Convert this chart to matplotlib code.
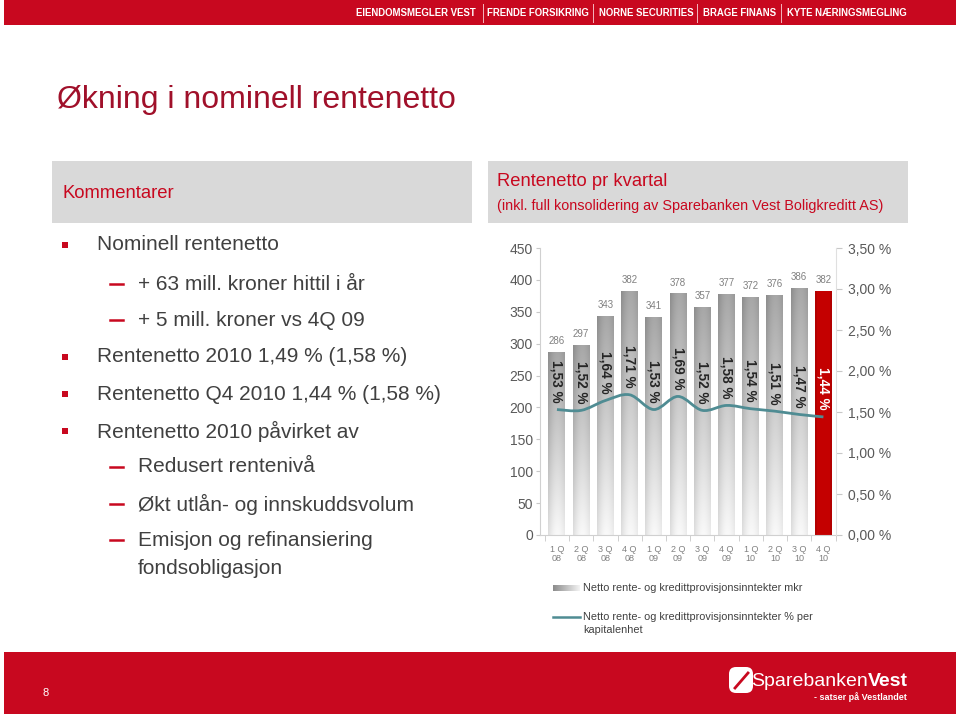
import numpy as np
import matplotlib
matplotlib.use("Agg")
import matplotlib.pyplot as plt
from matplotlib.path import Path
from matplotlib.patches import PathPatch, Rectangle, FancyBboxPatch

plt.rcParams['font.family'] = ['Liberation Sans', 'DejaVu Sans']

# data
quarters = ["1 Q\n08", "2 Q\n08", "3 Q\n08", "4 Q\n08", "1 Q\n09", "2 Q\n09",
            "3 Q\n09", "4 Q\n09", "1 Q\n10", "2 Q\n10", "3 Q\n10", "4 Q\n10"]
mkr = [286, 297, 343, 382, 341, 378, 357, 377, 372, 376, 386, 382]
pct = [1.53, 1.52, 1.64, 1.71, 1.53, 1.69, 1.52, 1.58, 1.54, 1.51, 1.47, 1.44]
left_ticks = [0, 50, 100, 150, 200, 250, 300, 350, 400, 450]
right_ticks = [0.0, 0.5, 1.0, 1.5, 2.0, 2.5, 3.0, 3.5]
companies = ["EIENDOMSMEGLER VEST", "FRENDE FORSIKRING", "NORNE SECURITIES",
             "BRAGE FINANS", "KYTE NÆRINGSMEGLING"]

RED = "#c8081f"
DARKRED = "#a0102a"
TXT = "#404040"
TEAL = "#4f8c93"

W, H = 960, 716
fig = plt.figure(figsize=(W / 100, H / 100), dpi=100)

# overlay in pixel coordinates for the slide parts
bg = fig.add_axes([0, 0, 1, 1])
bg.set_xlim(0, W)
bg.set_ylim(H, 0)
bg.axis('off')

# top banner
bg.add_patch(Rectangle((4, 0), 952, 25, color=RED, lw=0))
centers = [416, 538, 646, 740, 847]
for name, cx in zip(companies, centers):
    bg.text(cx, 13, name, color='white', fontsize=6.9, fontweight='bold',
            ha='center', va='center')
for sx in [483, 593, 697, 781]:
    bg.plot([sx, sx], [4, 22], color='#f4b6be', lw=0.7)

# bottom banner
bg.add_patch(Rectangle((4, 652), 952, 62, color=RED, lw=0))
bg.text(46, 693, "8", color='white', fontsize=8, ha='center', va='center')
bg.text(868, 681, "Sparebanken", color='white', fontsize=14, ha='right', va='center')
bg.text(868, 681, "Vest", color='white', fontsize=14, fontweight='bold',
        ha='left', va='center')
bg.text(907, 697, "- satser på Vestlandet", color='white', fontsize=6.5,
        fontweight='bold', ha='right', va='center')
bg.add_patch(FancyBboxPatch((731, 669), 20, 22, boxstyle="round,pad=2,rounding_size=7",
                            color='white', lw=0))
bg.plot([735, 748], [688, 673], color=RED, lw=2)

# title
bg.text(57, 100, "Økning i nominell rentenetto", color=DARKRED, fontsize=23,
        ha='left', va='center')

# header boxes
bg.add_patch(Rectangle((52, 161), 420, 62, color='#d9d9d9', lw=0))
bg.add_patch(Rectangle((488, 161), 420, 62, color='#d9d9d9', lw=0))
bg.text(62, 193, "Kommentarer", color=RED, fontsize=13.3, ha='left', va='center')
bg.text(497, 182, "Rentenetto pr kvartal", color=RED, fontsize=13.2,
        ha='left', va='center')
bg.text(497, 206, "(inkl. full konsolidering av Sparebanken Vest Boligkreditt AS)",
        color=RED, fontsize=10.4, ha='left', va='center')

# bullets
items = [
    (0, 245, "Nominell rentenetto"),
    (1, 284, "+ 63 mill. kroner hittil i år"),
    (1, 320, "+ 5 mill. kroner vs 4Q 09"),
    (0, 357, "Rentenetto 2010 1,49 % (1,58 %)"),
    (0, 394, "Rentenetto Q4 2010 1,44 % (1,58 %)"),
    (0, 431, "Rentenetto 2010 påvirket av"),
    (1, 467, "Redusert rentenivå"),
    (1, 504, "Økt utlån- og innskuddsvolum"),
    (1, 540, "Emisjon og refinansiering"),
]
for lvl, y, s in items:
    if lvl == 0:
        bg.add_patch(Rectangle((62, y - 3), 6, 6, color=RED, lw=0))
        bg.text(97, y, s, color=TXT, fontsize=15, ha='left', va='center')
    else:
        bg.plot([110, 123], [y, y], color=RED, lw=1.8)
        bg.text(138, y, s, color=TXT, fontsize=15, ha='left', va='center')
bg.text(138, 569, "fondsobligasjon", color=TXT, fontsize=15, ha='left', va='center')

# chart
x0, x1, ytop, ybot = 540, 836, 248, 535
ax = fig.add_axes([x0 / W, 1 - ybot / H, (x1 - x0) / W, (ybot - ytop) / H])
ax.set_zorder(2)
ax.patch.set_visible(False)
xs = np.arange(len(mkr))

# gradient bars
gx = np.linspace(0, 1, 40)
gy = np.linspace(0, 1, 80)
GX, GY = np.meshgrid(gx, gy)
shade = 0.60 + 0.32 * GY + 0.08 * np.sin(np.pi * GX) - 0.05 * (1 - GX)
shade = np.clip(shade, 0, 1)
grey_img = np.dstack([shade, shade, shade])
bw = 0.7
for i, v in enumerate(mkr):
    if i == len(mkr) - 1:
        ax.add_patch(Rectangle((i - bw / 2, 0), bw, v, color='#b30000', lw=0, zorder=2))
        ax.add_patch(Rectangle((i - bw / 2 + 0.08, 0), bw - 0.16, v, color='#c40000', lw=0, zorder=2))
    else:
        ax.imshow(grey_img, extent=[i - bw / 2, i + bw / 2, 0, v], origin='upper',
                  aspect='auto', zorder=2, interpolation='bilinear')
    ax.text(i, v + 10, str(v), color='#808080', fontsize=7, ha='center', va='bottom')
ax.set_xlim(-0.7, 11.52)
ax.set_ylim(0, 450)

ax.set_yticks(left_ticks)
ax.set_yticklabels([str(t) for t in left_ticks])
ax.set_xticks(xs)
ax.set_xticklabels(quarters, fontsize=6.5, color='#808080', linespacing=1.0)
ax.set_xticks(np.arange(-0.5, 12, 1), minor=True)
ax.tick_params(axis='x', which='major', length=0, pad=7)
ax.tick_params(axis='x', which='minor', length=4, color='#c8c8c8')
ax.tick_params(axis='y', labelsize=10, colors='#c8c8c8', labelcolor='#595959',
               length=3, pad=2)
for sp in ['top', 'right']:
    ax.spines[sp].set_visible(False)
for sp in ['left', 'bottom']:
    ax.spines[sp].set_color('#d0d0d0')

ax2 = ax.twinx()
ax2.set_zorder(3)
ax2.set_ylim(0, 3.5)
ax2.set_yticks(right_ticks)
ax2.set_yticklabels([f"{t:.2f} %".replace('.', ',') for t in right_ticks])
ax2.tick_params(axis='y', labelsize=10, colors='#c8c8c8', labelcolor='#595959',
                length=4, pad=5)
for sp in ['top', 'left', 'bottom']:
    ax2.spines[sp].set_visible(False)
ax2.spines['right'].set_color('#e0e0e0')

# smoothed line through the percentage points (Catmull-Rom as Bezier)
pts = np.column_stack([xs, pct])
verts = [tuple(pts[0])]
codes = [Path.MOVETO]
for k in range(len(pts) - 1):
    p0 = pts[k - 1] if k > 0 else pts[k]
    p1, p2 = pts[k], pts[k + 1]
    p3 = pts[k + 2] if k + 2 < len(pts) else pts[k + 1]
    c1 = p1 + (p2 - p0) / 6
    c2 = p2 - (p3 - p1) / 6
    verts += [tuple(c1), tuple(c2), tuple(p2)]
    codes += [Path.CURVE4] * 3
ax2.add_patch(PathPatch(Path(verts, codes), fill=False, edgecolor=TEAL, lw=2, zorder=4))

for i, p in enumerate(pct):
    col = 'white' if i == len(pct) - 1 else '#262626'
    ax2.annotate(f"{p:.2f} %".replace('.', ','), (i, p), xytext=(0, 5),
                 textcoords='offset points', rotation=270, ha='center',
                 va='bottom', fontsize=9.8, fontweight='bold', color=col, zorder=5)

# legend
leg_img = np.dstack([np.tile(np.linspace(0.55, 0.95, 30), (5, 1))] * 3)
bg.imshow(leg_img, extent=[553, 580, 591, 585], aspect='auto', zorder=3)
bg.set_xlim(0, W)
bg.set_ylim(H, 0)
bg.text(583, 588, "Netto rente- og kredittprovisjonsinntekter mkr", color='#404040',
        fontsize=7.8, ha='left', va='center')
bg.plot([553, 580], [617, 617], color=TEAL, lw=1.8)
bg.text(583, 617, "Netto rente- og kredittprovisjonsinntekter % per", color='#404040',
        fontsize=7.8, ha='left', va='center')
bg.text(583, 630, "kapitalenhet", color='#404040', fontsize=7.8, ha='left', va='center')

fig.savefig("out.png", dpi=100)
